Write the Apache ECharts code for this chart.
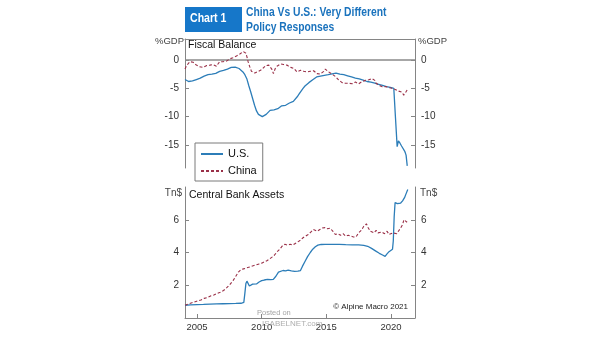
<!DOCTYPE html>
<html>
<head>
<meta charset="utf-8">
<script src="https://cdn.jsdelivr.net/npm/echarts@6/dist/echarts.min.js"></script>
<style>html,body{margin:0;padding:0;background:#fff;}#c{width:605px;height:341px;}</style>
</head>
<body>
<div id="c"></div>
<script>
// ---- data (decimal year, value) ----
const usFiscal = [[2004.07,-3.45],[2004.2,-3.7],[2004.35,-3.8],[2004.5,-3.65],[2004.65,-3.7],[2004.8,-3.5],[2004.95,-3.45],[2005.1,-3.3],[2005.25,-3.2],[2005.4,-2.9],[2005.55,-2.85],[2005.7,-2.7],[2005.85,-2.6],[2006.0,-2.55],[2006.15,-2.5],[2006.3,-2.45],[2006.45,-2.35],[2006.6,-2.2],[2006.75,-2.0],[2006.9,-1.95],[2007.05,-1.85],[2007.2,-1.7],[2007.35,-1.6],[2007.5,-1.45],[2007.65,-1.3],[2007.8,-1.35],[2007.95,-1.25],[2008.1,-1.45],[2008.25,-1.5],[2008.4,-1.7],[2008.55,-2.1],[2008.7,-2.6],[2008.85,-3.3],[2009.0,-4.5],[2009.15,-5.6],[2009.3,-6.8],[2009.45,-8.0],[2009.6,-9.0],[2009.75,-9.6],[2009.9,-9.9],[2010.05,-10.0],[2010.2,-9.9],[2010.35,-9.6],[2010.5,-9.3],[2010.65,-8.9],[2010.8,-8.7],[2010.95,-8.8],[2011.1,-9.1],[2011.25,-8.6],[2011.4,-8.3],[2011.55,-8.1],[2011.7,-7.9],[2011.85,-8.0],[2012.0,-7.7],[2012.15,-7.6],[2012.3,-7.4],[2012.45,-7.3],[2012.6,-7.0],[2012.75,-6.5],[2012.9,-6.0],[2013.05,-5.5],[2013.2,-5.0],[2013.35,-4.6],[2013.5,-4.3],[2013.65,-4.0],[2013.8,-3.7],[2013.95,-3.5],[2014.1,-3.2],[2014.25,-3.0],[2014.4,-2.9],[2014.55,-2.85],[2014.7,-2.75],[2014.85,-2.7],[2015.0,-2.65],[2015.15,-2.6],[2015.3,-2.5],[2015.45,-2.45],[2015.6,-2.35],[2015.75,-2.3],[2015.9,-2.4],[2016.05,-2.5],[2016.2,-2.45],[2016.35,-2.6],[2016.5,-2.7],[2016.65,-2.8],[2016.8,-2.9],[2016.95,-3.0],[2017.1,-3.1],[2017.25,-3.2],[2017.4,-3.3],[2017.55,-3.35],[2017.7,-3.5],[2017.85,-3.55],[2018.0,-3.7],[2018.15,-3.8],[2018.3,-3.85],[2018.45,-3.9],[2018.6,-4.0],[2018.75,-4.1],[2018.9,-4.25],[2019.05,-4.3],[2019.2,-4.4],[2019.35,-4.5],[2019.5,-4.6],[2019.65,-4.7],[2019.8,-4.8],[2019.95,-4.85],[2020.1,-4.95],[2020.22,-5.0],[2020.35,-10.2],[2020.48,-15.3],[2020.58,-14.3],[2020.7,-14.7],[2020.82,-15.2],[2020.95,-15.4],[2021.08,-16.2],[2021.17,-16.8],[2021.26,-18.7]];

const chinaFiscal = [[2004.07,-1.6],[2004.17,-1.1],[2004.3,-0.7],[2004.45,-0.3],[2004.56,-0.2],[2004.7,-0.4],[2004.82,-0.6],[2004.95,-0.9],[2005.08,-1.1],[2005.2,-1.2],[2005.35,-1.0],[2005.47,-1.3],[2005.6,-1.2],[2005.72,-1.0],[2005.85,-1.1],[2006.0,-0.9],[2006.12,-0.7],[2006.24,-0.8],[2006.38,-1.1],[2006.5,-1.1],[2006.62,-0.7],[2006.75,-0.3],[2006.88,-0.1],[2007.0,-0.3],[2007.15,-0.5],[2007.28,-0.2],[2007.4,0.1],[2007.53,0.2],[2007.65,0.1],[2007.78,0.4],[2007.92,0.5],[2008.05,0.7],[2008.18,0.9],[2008.31,1.05],[2008.45,1.3],[2008.57,1.5],[2008.68,1.75],[2008.78,1.2],[2008.88,0.4],[2008.95,-0.3],[2009.08,-1.2],[2009.21,-2.0],[2009.35,-2.3],[2009.47,-2.3],[2009.6,-2.1],[2009.75,-2.0],[2009.88,-2.0],[2010.0,-1.7],[2010.14,-1.5],[2010.3,-1.0],[2010.45,-0.7],[2010.55,-0.9],[2010.66,-1.2],[2010.78,-1.6],[2010.91,-2.4],[2011.05,-1.5],[2011.18,-1.1],[2011.3,-0.9],[2011.45,-0.7],[2011.57,-0.6],[2011.7,-0.8],[2011.82,-0.7],[2011.95,-0.9],[2012.1,-1.1],[2012.25,-1.3],[2012.4,-1.4],[2012.5,-1.5],[2012.6,-1.8],[2012.73,-2.1],[2012.85,-1.9],[2013.0,-1.8],[2013.12,-1.8],[2013.25,-2.0],[2013.38,-1.9],[2013.5,-2.1],[2013.62,-2.0],[2013.75,-2.0],[2013.88,-1.8],[2014.02,-1.9],[2014.15,-2.2],[2014.28,-2.4],[2014.4,-2.6],[2014.53,-2.5],[2014.67,-2.4],[2014.8,-2.0],[2014.92,-1.6],[2015.05,-1.8],[2015.18,-2.1],[2015.31,-2.4],[2015.45,-2.5],[2015.58,-2.7],[2015.7,-2.9],[2015.83,-3.1],[2015.95,-3.5],[2016.09,-3.8],[2016.22,-4.0],[2016.35,-3.9],[2016.47,-4.1],[2016.6,-4.3],[2016.73,-4.1],[2016.86,-4.0],[2017.0,-4.2],[2017.12,-4.4],[2017.25,-3.9],[2017.38,-4.0],[2017.5,-4.2],[2017.64,-4.1],[2017.77,-3.8],[2017.9,-3.7],[2018.02,-3.6],[2018.15,-3.7],[2018.28,-3.5],[2018.41,-3.4],[2018.55,-3.3],[2018.67,-3.2],[2018.75,-3.6],[2018.85,-4.1],[2018.95,-4.4],[2019.1,-4.5],[2019.3,-4.7],[2019.45,-4.6],[2019.6,-4.7],[2019.75,-4.8],[2019.9,-4.9],[2020.08,-5.0],[2020.2,-5.3],[2020.33,-5.2],[2020.47,-5.4],[2020.6,-5.5],[2020.73,-5.6],[2020.86,-5.7],[2020.99,-6.2],[2021.12,-5.8],[2021.25,-5.3]];

const usAssets = [[2004.07,0.78],[2004.5,0.8],[2005.0,0.82],[2005.5,0.83],[2006.0,0.85],[2006.5,0.86],[2007.0,0.87],[2007.5,0.88],[2008.0,0.89],[2008.4,0.9],[2008.62,0.95],[2008.7,1.5],[2008.78,2.1],[2008.86,2.25],[2008.95,2.15],[2009.05,1.95],[2009.15,2.02],[2009.3,2.07],[2009.45,2.02],[2009.6,2.08],[2009.8,2.2],[2010.0,2.28],[2010.2,2.32],[2010.45,2.36],[2010.7,2.34],[2010.9,2.36],[2011.1,2.55],[2011.3,2.8],[2011.45,2.88],[2011.65,2.9],[2011.85,2.88],[2012.05,2.92],[2012.3,2.88],[2012.55,2.85],[2012.8,2.86],[2013.0,2.9],[2013.15,3.15],[2013.35,3.45],[2013.55,3.75],[2013.76,4.0],[2013.95,4.2],[2014.15,4.35],[2014.35,4.45],[2014.6,4.49],[2014.9,4.5],[2015.5,4.5],[2016.0,4.5],[2016.5,4.48],[2017.0,4.47],[2017.5,4.46],[2017.9,4.44],[2018.2,4.38],[2018.5,4.25],[2018.8,4.1],[2019.1,3.95],[2019.35,3.85],[2019.55,3.76],[2019.68,3.9],[2019.85,4.05],[2020.0,4.15],[2020.12,4.2],[2020.18,4.7],[2020.25,6.2],[2020.32,7.05],[2020.4,7.15],[2020.5,6.98],[2020.6,6.95],[2020.75,7.02],[2020.9,7.15],[2021.05,7.35],[2021.15,7.55],[2021.3,7.85]];

const chinaAssets = [[2004.07,0.78],[2004.3,0.85],[2004.55,0.92],[2004.8,0.98],[2005.05,1.05],[2005.3,1.1],[2005.55,1.2],[2005.8,1.25],[2006.05,1.35],[2006.3,1.4],[2006.55,1.5],[2006.8,1.57],[2007.05,1.68],[2007.3,1.85],[2007.55,2.05],[2007.8,2.3],[2008.0,2.55],[2008.2,2.8],[2008.4,2.95],[2008.6,3.0],[2008.8,3.05],[2009.0,3.1],[2009.2,3.15],[2009.4,3.2],[2009.6,3.25],[2009.8,3.3],[2010.0,3.35],[2010.2,3.42],[2010.4,3.5],[2010.6,3.6],[2010.8,3.72],[2011.0,3.85],[2011.2,4.05],[2011.4,4.2],[2011.6,4.4],[2011.8,4.5],[2012.0,4.45],[2012.2,4.5],[2012.4,4.45],[2012.6,4.55],[2012.8,4.65],[2013.0,4.75],[2013.2,4.9],[2013.4,5.0],[2013.6,5.1],[2013.8,5.25],[2014.0,5.4],[2014.15,5.35],[2014.3,5.3],[2014.5,5.4],[2014.7,5.5],[2014.9,5.52],[2015.1,5.45],[2015.3,5.48],[2015.5,5.3],[2015.7,5.1],[2015.9,5.15],[2016.1,5.05],[2016.3,5.15],[2016.5,5.0],[2016.7,5.05],[2016.9,5.0],[2017.1,4.95],[2017.3,4.95],[2017.5,5.2],[2017.7,5.35],[2017.9,5.6],[2018.1,5.75],[2018.25,5.5],[2018.4,5.3],[2018.55,5.35],[2018.7,5.2],[2018.85,5.35],[2019.0,5.2],[2019.15,5.15],[2019.3,5.25],[2019.5,5.15],[2019.7,5.3],[2019.85,5.1],[2020.0,5.05],[2020.15,5.2],[2020.3,5.1],[2020.45,5.15],[2020.6,5.2],[2020.75,5.5],[2020.9,5.7],[2021.0,6.0],[2021.1,5.9],[2021.25,5.85]];

const yearTicks = [2005, 2010, 2015, 2020];
const fiscalTicks = [-15, -10, -5, 0];
const assetTicks = [2, 4, 6];
const seriesNames = ['U.S.', 'China'];

// ---- styles ----
const FONT = 'Liberation Sans, Arial, sans-serif';
const AXIS = '#858585';
const BLUE = '#2c7db8';
const RED = '#9a3048';
const TITLE = '#1b73bd';

const chart = echarts.init(document.getElementById('c'), null, {renderer: 'canvas'});

function yAx(grid, pos, min, max, ticks) {
  return {
    type: 'value', gridIndex: grid, position: pos, min: min, max: max,
    axisLine: {show: true, lineStyle: {color: AXIS, width: 1}},
    axisTick: {show: true, inside: true, length: 4, lineStyle: {color: AXIS}, customValues: ticks},
    axisLabel: {show: true, customValues: ticks, margin: 6, fontSize: 10, color: '#333', fontFamily: FONT},
    splitLine: {show: false}
  };
}

const option = {
  animation: false,
  backgroundColor: '#fff',
  grid: [
    {left: 185, top: 39, width: 230, height: 129},
    {left: 185, top: 187, width: 230, height: 131}
  ],
  xAxis: [
    {type: 'value', gridIndex: 0, position: 'top', min: 2004.07, max: 2021.86,
     axisLine: {show: true, onZero: false, lineStyle: {color: AXIS}}, axisTick: {show: false}, axisLabel: {show: false}, splitLine: {show: false}},
    {type: 'value', gridIndex: 1, position: 'bottom', min: 2004.07, max: 2021.86,
     axisLine: {show: true, onZero: false, lineStyle: {color: AXIS}},
     axisTick: {show: true, inside: true, length: 4, lineStyle: {color: AXIS}, customValues: yearTicks},
     axisLabel: {show: true, customValues: yearTicks, margin: 4, fontSize: 9.5, color: '#333', fontFamily: FONT, formatter: v => String(v)},
     splitLine: {show: false}}
  ],
  yAxis: [
    yAx(0, 'left', -19.08, 3.71, fiscalTicks),
    yAx(0, 'right', -19.08, 3.71, fiscalTicks),
    yAx(1, 'left', 0, 8, assetTicks),
    yAx(1, 'right', 0, 8, assetTicks)
  ],
  legend: {
    data: seriesNames, orient: 'vertical', left: 195, top: 143,
    backgroundColor: '#fff', borderColor: '#7a7a7a', borderWidth: 1,
    padding: [4, 6, 3, 5], itemWidth: 22, itemHeight: 10, itemGap: 3,
    itemStyle: {opacity: 0},
    textStyle: {fontSize: 11, color: '#111', fontFamily: FONT, lineHeight: 14},
    selectedMode: false, z: 20
  },
  series: [
    {name: 'U.S.', type: 'line', xAxisIndex: 0, yAxisIndex: 0, data: usFiscal, showSymbol: false, symbol: 'none',
     color: BLUE, lineStyle: {color: BLUE, width: 1.3}, z: 3,
     markLine: {silent: true, symbol: 'none', label: {show: false}, animation: false,
                lineStyle: {color: '#8a8a8a', width: 1.5, type: 'solid'}, data: [{yAxis: 0}], z: 1}},
    {name: 'China', type: 'line', xAxisIndex: 0, yAxisIndex: 0, data: chinaFiscal, showSymbol: false, symbol: 'none',
     color: RED, lineStyle: {color: RED, width: 1.1, type: [3, 2]}, z: 4},
    {name: 'U.S.', type: 'line', xAxisIndex: 1, yAxisIndex: 2, data: usAssets, showSymbol: false, symbol: 'none',
     color: BLUE, lineStyle: {color: BLUE, width: 1.3}, z: 3},
    {name: 'China', type: 'line', xAxisIndex: 1, yAxisIndex: 2, data: chinaAssets, showSymbol: false, symbol: 'none',
     color: RED, lineStyle: {color: RED, width: 1.1, type: [3, 2]}, z: 4}
  ],
  graphic: [
    {type: 'rect', left: 185, top: 7, shape: {width: 57, height: 25}, style: {fill: '#1677c9'}},
    {type: 'text', x: 190, y: 19, scaleX: 0.88, style: {text: 'Chart 1', fill: '#fff', fontSize: 12, fontWeight: 'bold', fontFamily: FONT, verticalAlign: 'middle'}},
    {type: 'text', x: 246, y: 12.5, scaleX: 0.86, style: {text: 'China Vs U.S.: Very Different', fill: TITLE, fontSize: 12, fontWeight: 'bold', fontFamily: FONT, verticalAlign: 'middle'}},
    {type: 'text', x: 246, y: 27.5, scaleX: 0.86, style: {text: 'Policy Responses', fill: TITLE, fontSize: 12, fontWeight: 'bold', fontFamily: FONT, verticalAlign: 'middle'}},
    {type: 'text', x: 188, y: 45.5, style: {text: 'Fiscal Balance', fill: '#111', fontSize: 10.5, fontFamily: FONT, verticalAlign: 'middle'}},
    {type: 'text', x: 189, y: 195, style: {text: 'Central Bank Assets', fill: '#111', fontSize: 10.5, fontFamily: FONT, verticalAlign: 'middle'}},
    {type: 'text', x: 184, y: 41.5, style: {text: '%GDP', fill: '#444', fontSize: 9.5, fontFamily: FONT, align: 'right', verticalAlign: 'middle'}},
    {type: 'text', x: 418, y: 41.5, style: {text: '%GDP', fill: '#444', fontSize: 9.5, fontFamily: FONT, verticalAlign: 'middle'}},
    {type: 'text', x: 182, y: 193, style: {text: 'Tn$', fill: '#444', fontSize: 10, fontFamily: FONT, align: 'right', verticalAlign: 'middle'}},
    {type: 'text', x: 420, y: 193, style: {text: 'Tn$', fill: '#444', fontSize: 10, fontFamily: FONT, verticalAlign: 'middle'}},
    {type: 'text', x: 408, y: 307, style: {text: '© Alpine Macro 2021', fill: '#222', fontSize: 8, fontFamily: FONT, align: 'right', verticalAlign: 'middle'}},
    {type: 'text', x: 257, y: 313, z: 30, style: {text: 'Posted on', fill: '#9a9a9a', fontSize: 7.5, fontFamily: FONT, verticalAlign: 'middle', opacity: 0.9}},
    {type: 'text', x: 262, y: 324, z: 30, style: {text: 'ISABELNET.com', fill: '#a5a5a5', fontSize: 8, fontFamily: FONT, verticalAlign: 'middle', opacity: 0.9}}
  ]
};
chart.setOption(option);
</script>
</body>
</html>
